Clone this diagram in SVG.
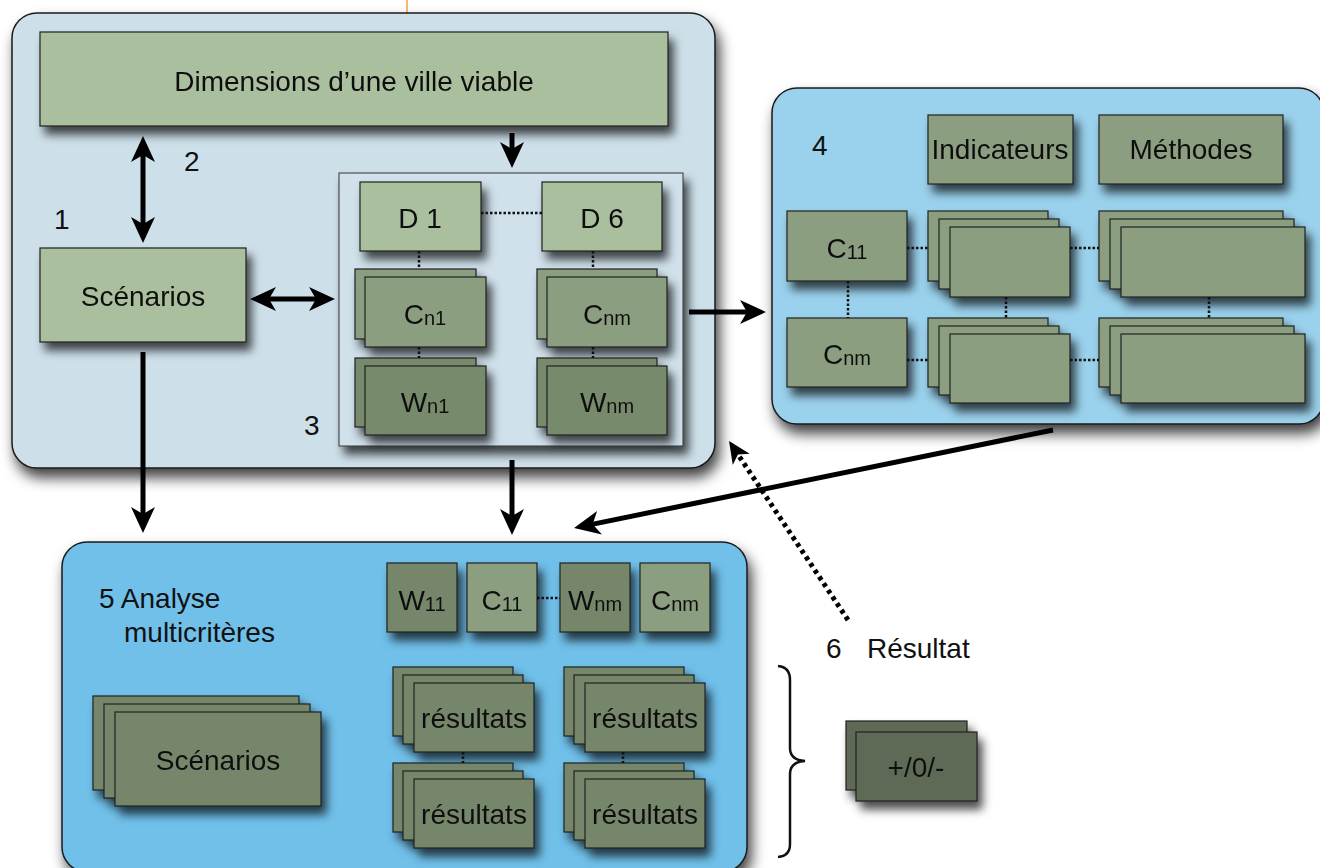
<svg xmlns="http://www.w3.org/2000/svg" width="1320" height="868" viewBox="0 0 1320 868">
<defs>
<filter id="shBig" x="-10%" y="-10%" width="125%" height="130%">
<feGaussianBlur in="SourceAlpha" stdDeviation="7"/>
<feOffset dx="4" dy="9" result="b"/>
<feFlood flood-color="#000" flood-opacity="0.75"/>
<feComposite in2="b" operator="in"/>
<feMerge><feMergeNode/><feMergeNode in="SourceGraphic"/></feMerge>
</filter>
<filter id="sh" x="-20%" y="-20%" width="150%" height="160%">
<feGaussianBlur in="SourceAlpha" stdDeviation="5"/>
<feOffset dx="5" dy="8" result="b"/>
<feFlood flood-color="#000" flood-opacity="0.7"/>
<feComposite in2="b" operator="in"/>
<feMerge><feMergeNode/><feMergeNode in="SourceGraphic"/></feMerge>
</filter>
<marker id="ah" viewBox="0 0 26 26" refX="9" refY="13" markerWidth="26" markerHeight="26" markerUnits="userSpaceOnUse" orient="auto-start-reverse">
<path d="M26,13 L0,1 L7,13 L0,25 Z" fill="#000"/>
</marker>
<marker id="ahs" viewBox="0 0 26 26" refX="9" refY="13" markerWidth="22" markerHeight="22" markerUnits="userSpaceOnUse" orient="auto">
<path d="M26,13 L0,1 L7,13 L0,25 Z" fill="#000"/>
</marker>
</defs>
<style>
text{font-family:"Liberation Sans",Arial,sans-serif;font-size:28px;fill:#111}
.m{text-anchor:middle}
.sub{font-size:20px}
.frame{stroke:#1a1a1a;stroke-width:1.5}
.b{stroke:#222;stroke-width:1.2}
.lg{fill:#a9bf9d}
.mg{fill:#8c9e80}
.dg{fill:#778a6c}
.xg{fill:#75866a}
.vg{fill:#5f6a56}
.dot{stroke:#111;stroke-width:2.5;stroke-dasharray:2.5 2;fill:none}
.arr{stroke:#000;stroke-width:5;fill:none}
</style>
<rect width="1320" height="868" fill="#fff"/>
<line x1="407" y1="0" x2="407" y2="14" stroke="#f2a33a" stroke-width="1.5"/>

<g id="box1">
<rect class="frame" x="12" y="13" width="703" height="455" rx="25" fill="#cddfe9" filter="url(#shBig)"/>
<text x="54" y="229">1</text>
<text x="184" y="171">2</text>
<text x="304" y="435">3</text>
</g>
<g id="dimensions" filter="url(#sh)">
<rect class="b lg" x="40" y="32" width="628" height="94"/>
<text class="m" x="354" y="91">Dimensions d’une ville viable</text>
</g>
<g id="scenarios1" filter="url(#sh)">
<rect class="b lg" x="40" y="248" width="206" height="94"/>
<text class="m" x="143" y="306">Scénarios</text>
</g>
<g id="group3">
<rect x="339" y="173" width="344" height="273" fill="#d0e1eb" stroke="#333" stroke-width="1" filter="url(#sh)"/>
</g>
<g id="d1" filter="url(#sh)">
<rect class="b lg" x="360" y="182" width="121" height="69"/>
<text class="m" x="420" y="228">D 1</text>
</g>
<g id="d6" filter="url(#sh)">
<rect class="b lg" x="542" y="182" width="120" height="69"/>
<text class="m" x="602" y="228">D 6</text>
</g>
<g id="cn1" filter="url(#sh)">
<rect class="b mg" x="355" y="269" width="121" height="70"/>
<rect class="b mg" x="365" y="277" width="121" height="70"/>
<text class="m" x="425" y="324">C<tspan class="sub" dy="1">n1</tspan></text>
</g>
<g id="cnm" filter="url(#sh)">
<rect class="b mg" x="537" y="269" width="120" height="70"/>
<rect class="b mg" x="547" y="277" width="120" height="70"/>
<text class="m" x="607" y="324">C<tspan class="sub" dy="1">nm</tspan></text>
</g>
<g id="wn1" filter="url(#sh)">
<rect class="b dg" x="355" y="358" width="121" height="69"/>
<rect class="b dg" x="365" y="366" width="121" height="69"/>
<text class="m" x="425" y="412">W<tspan class="sub" dy="1">n1</tspan></text>
</g>
<g id="wnm" filter="url(#sh)">
<rect class="b dg" x="537" y="358" width="120" height="69"/>
<rect class="b dg" x="547" y="366" width="120" height="69"/>
<text class="m" x="607" y="412">W<tspan class="sub" dy="1">nm</tspan></text>
</g>

<g id="box4">
<rect class="frame" x="772" y="88" width="552" height="336" rx="25" fill="#9ad1ec" filter="url(#shBig)"/>
<text x="812" y="155">4</text>
</g>
<g id="indicateurs" filter="url(#sh)">
<rect class="b mg" x="928" y="115" width="145" height="69"/>
<text class="m" x="1000" y="159">Indicateurs</text>
</g>
<g id="methodes" filter="url(#sh)">
<rect class="b mg" x="1099" y="115" width="184" height="69"/>
<text class="m" x="1191" y="159">Méthodes</text>
</g>
<g id="c11b4" filter="url(#sh)">
<rect class="b mg" x="787" y="211" width="120" height="70"/>
<text class="m" x="847" y="258">C<tspan class="sub" dy="1">11</tspan></text>
</g>
<g id="cnmb4" filter="url(#sh)">
<rect class="b mg" x="787" y="318" width="120" height="69"/>
<text class="m" x="847" y="364">C<tspan class="sub" dy="1">nm</tspan></text>
</g>
<g id="ind1" filter="url(#sh)">
<rect class="b mg" x="928" y="211" width="120" height="70"/>
<rect class="b mg" x="939" y="219" width="120" height="70"/>
<rect class="b mg" x="950" y="227" width="120" height="70"/>
</g>
<g id="met1" filter="url(#sh)">
<rect class="b mg" x="1099" y="211" width="184" height="70"/>
<rect class="b mg" x="1110" y="219" width="184" height="70"/>
<rect class="b mg" x="1121" y="227" width="184" height="70"/>
</g>
<g id="ind2" filter="url(#sh)">
<rect class="b mg" x="928" y="318" width="120" height="69"/>
<rect class="b mg" x="939" y="326" width="120" height="69"/>
<rect class="b mg" x="950" y="334" width="120" height="69"/>
</g>
<g id="met2" filter="url(#sh)">
<rect class="b mg" x="1099" y="318" width="184" height="69"/>
<rect class="b mg" x="1110" y="326" width="184" height="69"/>
<rect class="b mg" x="1121" y="334" width="184" height="69"/>
</g>

<g id="box5">
<rect class="frame" x="62" y="542" width="685" height="330" rx="25" fill="#6fc0ea" filter="url(#shBig)"/>
<text x="99" y="608">5 Analyse</text>
<text x="124" y="642">multicritères</text>
</g>
<g id="w11" filter="url(#sh)">
<rect class="b xg" x="387" y="563" width="70" height="69"/>
<text class="m" x="422" y="610">W<tspan class="sub" dy="1">11</tspan></text>
</g>
<g id="c11b5" filter="url(#sh)">
<rect class="b mg" x="467" y="563" width="70" height="69"/>
<text class="m" x="502" y="610">C<tspan class="sub" dy="1">11</tspan></text>
</g>
<g id="wnmb5" filter="url(#sh)">
<rect class="b xg" x="560" y="563" width="70" height="69"/>
<text class="m" x="595" y="610">W<tspan class="sub" dy="1">nm</tspan></text>
</g>
<g id="cnmb5" filter="url(#sh)">
<rect class="b mg" x="640" y="563" width="70" height="69"/>
<text class="m" x="675" y="610">C<tspan class="sub" dy="1">nm</tspan></text>
</g>
<g id="scenarios5" filter="url(#sh)">
<rect class="b xg" x="93" y="696" width="206" height="94"/>
<rect class="b xg" x="104" y="704" width="206" height="94"/>
<rect class="b xg" x="115" y="712" width="206" height="94"/>
<text class="m" x="218" y="770">Scénarios</text>
</g>
<g id="res1" filter="url(#sh)">
<rect class="b xg" x="393" y="667" width="120" height="69"/>
<rect class="b xg" x="403" y="675" width="120" height="69"/>
<rect class="b xg" x="414" y="683" width="120" height="69"/>
<text class="m" x="474" y="728">résultats</text>
</g>
<g id="res2" filter="url(#sh)">
<rect class="b xg" x="564" y="667" width="120" height="69"/>
<rect class="b xg" x="574" y="675" width="120" height="69"/>
<rect class="b xg" x="585" y="683" width="120" height="69"/>
<text class="m" x="645" y="728">résultats</text>
</g>
<g id="res3" filter="url(#sh)">
<rect class="b xg" x="393" y="763" width="120" height="69"/>
<rect class="b xg" x="403" y="771" width="120" height="69"/>
<rect class="b xg" x="414" y="779" width="120" height="69"/>
<text class="m" x="474" y="824">résultats</text>
</g>
<g id="res4" filter="url(#sh)">
<rect class="b xg" x="564" y="763" width="120" height="69"/>
<rect class="b xg" x="574" y="771" width="120" height="69"/>
<rect class="b xg" x="585" y="779" width="120" height="69"/>
<text class="m" x="645" y="824">résultats</text>
</g>

<g id="resultat6">
<text x="826" y="658">6</text>
<text x="867" y="658">Résultat</text>
<path d="M778,666 Q790,667 790,680 L790,748 Q790,760 805,761 Q790,762 790,774 L790,844 Q790,856 778,857" fill="none" stroke="#111" stroke-width="2.5"/>
</g>
<g id="pm" filter="url(#sh)">
<rect class="b vg" x="846" y="721" width="121" height="69"/>
<rect class="b vg" x="856" y="732" width="121" height="69"/>
<text class="m" x="916" y="777">+/0/-</text>
</g>

<g id="connectors">
<line class="dot" x1="481" y1="213" x2="542" y2="213"/>
<line class="dot" x1="419" y1="251" x2="419" y2="269"/>
<line class="dot" x1="593" y1="251" x2="593" y2="269"/>
<line class="dot" x1="419" y1="347" x2="419" y2="358"/>
<line class="dot" x1="593" y1="347" x2="593" y2="358"/>
<line class="dot" x1="907" y1="248" x2="928" y2="248"/>
<line class="dot" x1="1070" y1="248" x2="1099" y2="248"/>
<line class="dot" x1="907" y1="360" x2="928" y2="360"/>
<line class="dot" x1="1070" y1="360" x2="1099" y2="360"/>
<line class="dot" x1="848" y1="281" x2="848" y2="318"/>
<line class="dot" x1="1006" y1="297" x2="1006" y2="318"/>
<line class="dot" x1="1209" y1="297" x2="1209" y2="318"/>
<line class="dot" x1="537" y1="598" x2="560" y2="598"/>
<line class="dot" x1="463" y1="752" x2="463" y2="763"/>
<line class="dot" x1="623" y1="752" x2="623" y2="763"/>
<line class="arr" x1="143" y1="153" x2="143" y2="226" marker-start="url(#ah)" marker-end="url(#ah)"/>
<line class="arr" x1="267" y1="299" x2="318" y2="299" marker-start="url(#ah)" marker-end="url(#ah)"/>
<line class="arr" x1="512" y1="133" x2="512" y2="151" marker-end="url(#ah)"/>
<line class="arr" x1="689" y1="312" x2="749" y2="312" marker-end="url(#ah)"/>
<line class="arr" x1="143" y1="352" x2="143" y2="516" marker-end="url(#ah)"/>
<line class="arr" x1="512" y1="460" x2="512" y2="518" marker-end="url(#ah)"/>
<line class="arr" x1="1053" y1="430" x2="590.7" y2="524.6" marker-end="url(#ah)"/>
<line x1="848" y1="620" x2="737" y2="453" stroke="#000" stroke-width="5" stroke-dasharray="4 4" marker-end="url(#ahs)"/>
</g>
</svg>
